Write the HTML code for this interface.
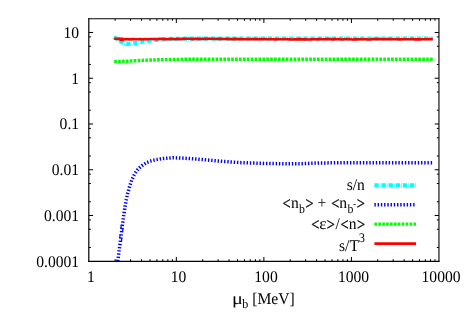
<!DOCTYPE html><html><head><meta charset="utf-8"><style>html,body{margin:0;padding:0;background:#fff}svg{display:block;will-change:transform}text{font-family:"Liberation Serif",serif;font-size:15.6px;fill:#000;text-rendering:geometricPrecision}</style></head><body>
<svg width="467" height="327" viewBox="0 0 467 327">
<rect width="467" height="327" fill="#fff"/>
<path d="M115.15 261.25v-2.10 M115.15 18.70v2.10 M130.57 261.25v-2.10 M130.57 18.70v2.10 M141.50 261.25v-2.10 M141.50 18.70v2.10 M149.99 261.25v-2.10 M149.99 18.70v2.10 M156.92 261.25v-2.10 M156.92 18.70v2.10 M162.78 261.25v-2.10 M162.78 18.70v2.10 M167.85 261.25v-2.10 M167.85 18.70v2.10 M172.33 261.25v-2.10 M172.33 18.70v2.10 M176.34 261.25v-4.30 M176.34 18.70v4.30 M202.69 261.25v-2.10 M202.69 18.70v2.10 M218.10 261.25v-2.10 M218.10 18.70v2.10 M229.04 261.25v-2.10 M229.04 18.70v2.10 M237.52 261.25v-2.10 M237.52 18.70v2.10 M244.45 261.25v-2.10 M244.45 18.70v2.10 M250.32 261.25v-2.10 M250.32 18.70v2.10 M255.39 261.25v-2.10 M255.39 18.70v2.10 M259.87 261.25v-2.10 M259.87 18.70v2.10 M263.88 261.25v-4.30 M263.88 18.70v4.30 M290.23 261.25v-2.10 M290.23 18.70v2.10 M305.64 261.25v-2.10 M305.64 18.70v2.10 M316.58 261.25v-2.10 M316.58 18.70v2.10 M325.06 261.25v-2.10 M325.06 18.70v2.10 M331.99 261.25v-2.10 M331.99 18.70v2.10 M337.85 261.25v-2.10 M337.85 18.70v2.10 M342.93 261.25v-2.10 M342.93 18.70v2.10 M347.41 261.25v-2.10 M347.41 18.70v2.10 M351.41 261.25v-4.30 M351.41 18.70v4.30 M377.76 261.25v-2.10 M377.76 18.70v2.10 M393.18 261.25v-2.10 M393.18 18.70v2.10 M404.12 261.25v-2.10 M404.12 18.70v2.10 M412.60 261.25v-2.10 M412.60 18.70v2.10 M419.53 261.25v-2.10 M419.53 18.70v2.10 M425.39 261.25v-2.10 M425.39 18.70v2.10 M430.47 261.25v-2.10 M430.47 18.70v2.10 M434.94 261.25v-2.10 M434.94 18.70v2.10 M88.80 247.48h2.10 M438.95 247.48h-2.10 M88.80 229.27h2.10 M438.95 229.27h-2.10 M88.80 219.93h2.10 M438.95 219.93h-2.10 M88.80 215.49h4.30 M438.95 215.49h-4.30 M88.80 201.72h2.10 M438.95 201.72h-2.10 M88.80 183.51h2.10 M438.95 183.51h-2.10 M88.80 174.17h2.10 M438.95 174.17h-2.10 M88.80 169.74h4.30 M438.95 169.74h-4.30 M88.80 155.97h2.10 M438.95 155.97h-2.10 M88.80 137.76h2.10 M438.95 137.76h-2.10 M88.80 128.42h2.10 M438.95 128.42h-2.10 M88.80 123.98h4.30 M438.95 123.98h-4.30 M88.80 110.21h2.10 M438.95 110.21h-2.10 M88.80 92.00h2.10 M438.95 92.00h-2.10 M88.80 82.66h2.10 M438.95 82.66h-2.10 M88.80 78.23h4.30 M438.95 78.23h-4.30 M88.80 64.46h2.10 M438.95 64.46h-2.10 M88.80 46.25h2.10 M438.95 46.25h-2.10 M88.80 36.91h2.10 M438.95 36.91h-2.10 M88.80 32.47h4.30 M438.95 32.47h-4.30" stroke="#000" stroke-width="1" fill="none"/>
<path d="M113.9 36.9 L117.0 39.0 L121.0 41.6 L125.0 43.4 L128.0 44.0 L132.0 43.9 L137.0 42.8 L142.0 41.7 L148.0 40.8 L155.0 39.9 L162.0 39.3 L170.0 38.9 L185.0 38.7 L200.0 38.6 L250.0 38.5 L300.0 38.5 L350.0 38.5 L400.0 38.5 L432.8 38.5" stroke="#00ffff" stroke-width="4.2" fill="none" stroke-dasharray="4.3 1.1 0.6 1.1"/>
<path d="M117.8 261.2 L118.9 252.0 L120.3 242.0 L121.8 229.6 L123.5 216.7 L125.0 207.0 L126.3 199.5 L127.4 194.5 L128.5 190.5 L129.4 187.3 L130.4 184.1 L131.5 180.8 L132.7 178.0 L134.0 175.2 L135.6 172.5 L137.5 169.9 L139.7 167.6 L142.0 165.7 L144.6 163.9 L147.1 162.3 L150.0 161.2 L153.2 160.3 L156.4 159.6 L160.0 159.0 L163.6 158.5 L167.1 158.2 L170.3 158.0 L173.5 157.8 L178.0 157.9 L182.0 158.1 L190.0 158.6 L202.8 159.5 L218.0 161.0 L240.0 162.6 L264.0 163.4 L285.0 163.8 L300.0 163.7 L320.0 162.9 L350.0 162.8 L400.0 162.8 L432.3 162.8" stroke="#0000ff" stroke-width="3.5" fill="none" stroke-dasharray="1.4 1.83"/>
<path d="M121.29 225.17L120.86 228.37 M122.94 228.65L122.55 231.83 M120.08 234.80L119.71 238.01 M121.80 238.25L121.42 241.46" stroke="#0000ff" stroke-width="1.2" fill="none"/>
<path d="M114.2 61.7 L125.0 61.3 L135.0 60.7 L145.0 60.2 L157.0 59.8 L170.0 59.5 L185.0 59.3 L200.0 59.2 L250.0 59.2 L300.0 59.2 L350.0 59.2 L400.0 59.2 L432.8 59.2" stroke="#00ff00" stroke-width="3.4" fill="none" stroke-dasharray="2.7 1.2"/>
<path d="M114.2 38.8 L118.0 38.9 L119.5 38.6 L120.5 39.9 L121.3 38.5 L122.3 40.1 L123.2 38.9 L124.5 39.3 L124.5 39.2 L127.2 39.1 L130.0 39.4 L132.5 39.1 L135.0 39.3 L137.5 39.2 L140.0 39.1 L142.5 39.2 L145.0 39.0 L147.5 39.2 L150.0 39.0 L152.5 39.0 L155.0 39.1 L157.5 39.3 L160.0 38.9 L162.5 39.0 L165.0 39.1 L167.5 39.2 L170.0 39.0 L172.5 38.9 L175.0 39.2 L177.5 38.8 L180.0 39.1 L182.5 38.9 L185.0 38.8 L187.5 38.8 L190.0 38.8 L192.5 39.1 L195.0 38.8 L197.5 38.9 L200.0 39.0 L202.5 38.9 L205.0 38.9 L207.5 38.7 L210.0 38.7 L212.5 38.8 L215.0 39.0 L217.5 38.9 L220.0 38.9 L222.5 39.0 L225.0 39.0 L227.5 38.9 L230.0 39.1 L232.5 39.1 L235.0 38.9 L237.5 39.1 L240.0 39.1 L242.5 39.2 L245.0 39.2 L247.5 39.0 L250.0 39.3 L252.5 39.0 L255.0 39.1 L257.5 39.3 L260.0 39.0 L262.5 39.2 L265.0 39.0 L267.5 39.3 L270.0 39.3 L272.5 39.3 L275.0 39.4 L277.5 39.2 L280.0 39.3 L282.5 39.3 L285.0 39.3 L287.5 39.2 L290.0 39.4 L292.5 39.5 L295.0 39.3 L297.5 39.4 L300.0 39.1 L302.5 39.4 L305.0 39.4 L307.5 39.5 L310.0 39.4 L312.5 39.2 L315.0 39.2 L317.5 39.4 L320.0 39.1 L322.5 39.3 L325.0 39.2 L327.5 39.1 L330.0 39.1 L332.5 39.4 L335.0 39.1 L337.5 39.2 L340.0 39.3 L342.5 39.5 L345.0 39.1 L347.5 39.3 L350.0 39.3 L352.5 39.5 L355.0 39.4 L357.5 39.4 L360.0 39.2 L362.5 39.2 L365.0 39.2 L367.5 39.4 L370.0 39.5 L372.5 39.1 L375.0 39.1 L377.5 39.1 L380.0 39.1 L382.5 39.2 L385.0 39.3 L387.5 39.1 L390.0 39.0 L392.5 39.2 L395.0 39.2 L397.5 39.2 L400.0 39.4 L402.5 39.3 L405.0 39.2 L407.6 39.3 L410.1 39.3 L412.6 39.0 L415.1 39.4 L417.7 39.3 L420.2 39.4 L422.7 39.3 L425.2 39.2 L427.8 39.2 L430.3 39.0 L432.8 39.2" stroke="#ff0000" stroke-width="2.6" fill="none" stroke-linejoin="round"/>
<path d="M374.4 185.3H416.0" stroke="#00ffff" stroke-width="4.2" stroke-dasharray="4.3 1.1 0.6 1.1"/>
<path d="M374.4 204.8H416.0" stroke="#0000ff" stroke-width="3.5" stroke-dasharray="1.4 1.83"/>
<path d="M374.4 224.1H416.0" stroke="#00ff00" stroke-width="3.4" stroke-dasharray="2.7 1.2"/>
<path d="M374.4 243.6H416.0" stroke="#ff0000" stroke-width="2.6"/>
<path d="M88.80 18.20V261.95" stroke="#000" stroke-width="1.2" fill="none"/>
<path d="M88.20 261.35H439.45" stroke="#000" stroke-width="1.25" fill="none"/>
<path d="M88.20 18.70H439.45" stroke="#000" stroke-width="1.05" fill="none"/>
<path d="M438.95 18.20V261.95" stroke="#000" stroke-width="1.1" fill="none"/>
<text transform="translate(79.10 38.00) scale(1 1.045)" text-anchor="end">10</text>
<text transform="translate(79.10 84.00) scale(1 1.045)" text-anchor="end">1</text>
<text transform="translate(79.10 129.00) scale(1 1.045)" text-anchor="end">0.1</text>
<text transform="translate(79.10 175.00) scale(1 1.045)" text-anchor="end">0.01</text>
<text transform="translate(79.10 221.00) scale(1 1.045)" text-anchor="end">0.001</text>
<text transform="translate(79.10 267.00) scale(1 1.045)" text-anchor="end">0.0001</text>
<text transform="translate(90.90 282.00) scale(1 1.045)" text-anchor="middle">1</text>
<text transform="translate(178.44 282.00) scale(1 1.045)" text-anchor="middle">10</text>
<text transform="translate(265.98 282.00) scale(1 1.045)" text-anchor="middle">100</text>
<text transform="translate(353.51 282.00) scale(1 1.045)" text-anchor="middle">1000</text>
<text transform="translate(441.05 282.00) scale(1 1.045)" text-anchor="middle">10000</text>
<text transform="translate(232.10 304.00) scale(1.3 1.07)">μ</text>
<text transform="translate(242.30 308.30) scale(1 1.07)" style="font-size:12.0px">b</text>
<text transform="translate(252.30 304.00) scale(1 1.045)">[MeV]</text>
<text transform="translate(346.70 190.00) scale(1 1.045)">s/n</text>
<text transform="translate(282.45 209.00) scale(0.92 1.09)" stroke="#000" stroke-width="0.3">&lt;</text>
<text transform="translate(290.90 208.00) scale(1 1.045)">n</text>
<text transform="translate(298.90 212.60) scale(1 1.08)" style="font-size:11.8px">b</text>
<text transform="translate(305.40 209.00) scale(0.92 1.09)" stroke="#000" stroke-width="0.3">&gt;</text>
<text transform="translate(317.60 208.00) scale(1 1.045)">+</text>
<text transform="translate(331.15 209.00) scale(0.92 1.09)" stroke="#000" stroke-width="0.3">&lt;</text>
<text transform="translate(339.20 208.00) scale(1 1.045)">n</text>
<text transform="translate(347.50 212.60) scale(1 1.08)" style="font-size:11.8px">b</text>
<text transform="translate(353.00 207.00) scale(1 1.045)" style="font-size:9.5px">-</text>
<text transform="translate(356.80 209.00) scale(0.92 1.09)" stroke="#000" stroke-width="0.3">&gt;</text>
<text transform="translate(311.35 230.00) scale(0.92 1.09)" stroke="#000" stroke-width="0.3">&lt;</text>
<text transform="translate(319.30 229.00) scale(1.12 1.045)">ε</text>
<text transform="translate(326.70 230.00) scale(0.92 1.09)" stroke="#000" stroke-width="0.3">&gt;</text>
<text transform="translate(335.50 229.00) scale(1 1.045)">/</text>
<text transform="translate(340.45 230.00) scale(0.92 1.09)" stroke="#000" stroke-width="0.3">&lt;</text>
<text transform="translate(348.70 229.00) scale(1 1.045)">n</text>
<text transform="translate(356.90 230.00) scale(0.92 1.09)" stroke="#000" stroke-width="0.3">&gt;</text>
<text transform="translate(339.00 251.00) scale(1 1.045)">s/T</text>
<text transform="translate(358.70 242.00) scale(1 1.045)" style="font-size:12.5px">3</text>
</svg></body></html>
